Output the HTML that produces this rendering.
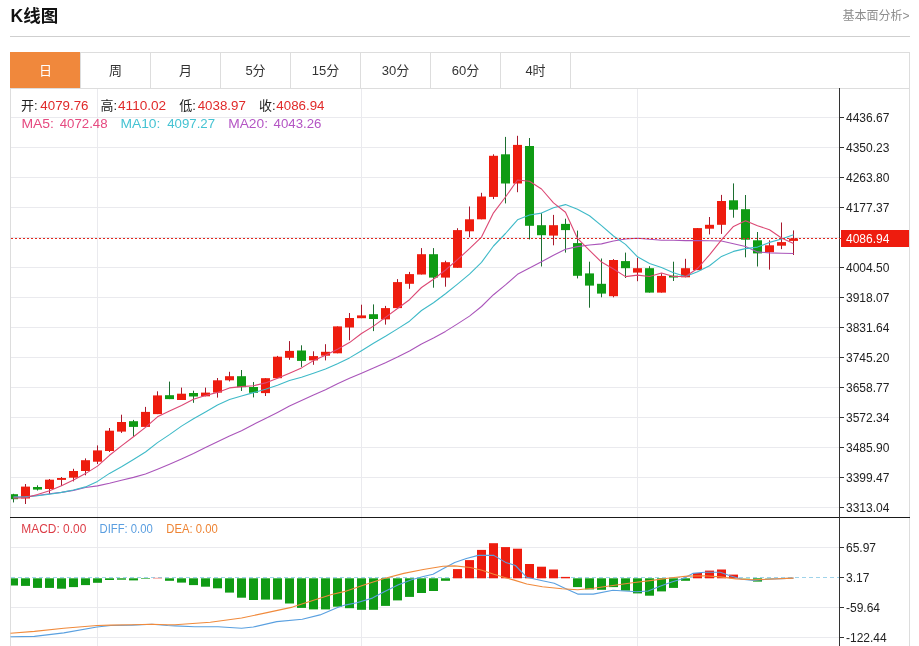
<!DOCTYPE html>
<html lang="zh"><head><meta charset="utf-8"><title>K线图</title>
<style>html,body{margin:0;padding:0;background:#fff}body{width:919px;height:646px;overflow:hidden;font-family:"Liberation Sans","Noto Sans CJK SC",sans-serif}svg{display:block}</style>
</head><body>
<svg width="919" height="646" viewBox="0 0 919 646" font-family='"Liberation Sans","Noto Sans CJK SC",sans-serif' shape-rendering="crispEdges">
<rect width="919" height="646" fill="#fff"/>
<rect x="10" y="36" width="900" height="1" fill="#cfcfcf"/>
<rect x="10" y="52" width="900" height="1" fill="#ddd"/>
<rect x="10" y="52" width="1" height="594" fill="#ddd"/>
<rect x="909" y="52" width="1" height="594" fill="#ddd"/>
<rect x="10" y="88" width="900" height="1" fill="#ddd"/>
<rect x="80" y="52" width="1" height="36" fill="#ddd"/>
<rect x="150" y="52" width="1" height="36" fill="#ddd"/>
<rect x="220" y="52" width="1" height="36" fill="#ddd"/>
<rect x="290" y="52" width="1" height="36" fill="#ddd"/>
<rect x="360" y="52" width="1" height="36" fill="#ddd"/>
<rect x="430" y="52" width="1" height="36" fill="#ddd"/>
<rect x="500" y="52" width="1" height="36" fill="#ddd"/>
<rect x="570" y="52" width="1" height="36" fill="#ddd"/>
<rect x="10" y="52" width="70" height="36" fill="#f0883c"/>
<rect x="11" y="117" width="828" height="1" fill="#eaeaee"/>
<rect x="11" y="147" width="828" height="1" fill="#eaeaee"/>
<rect x="11" y="177" width="828" height="1" fill="#eaeaee"/>
<rect x="11" y="207" width="828" height="1" fill="#eaeaee"/>
<rect x="11" y="237" width="828" height="1" fill="#eaeaee"/>
<rect x="11" y="267" width="828" height="1" fill="#eaeaee"/>
<rect x="11" y="297" width="828" height="1" fill="#eaeaee"/>
<rect x="11" y="327" width="828" height="1" fill="#eaeaee"/>
<rect x="11" y="357" width="828" height="1" fill="#eaeaee"/>
<rect x="11" y="387" width="828" height="1" fill="#eaeaee"/>
<rect x="11" y="417" width="828" height="1" fill="#eaeaee"/>
<rect x="11" y="447" width="828" height="1" fill="#eaeaee"/>
<rect x="11" y="477" width="828" height="1" fill="#eaeaee"/>
<rect x="11" y="507" width="828" height="1" fill="#eaeaee"/>
<rect x="11" y="547" width="828" height="1" fill="#eaeaee"/>
<rect x="11" y="607" width="828" height="1" fill="#eaeaee"/>
<rect x="11" y="637" width="828" height="1" fill="#eaeaee"/>
<rect x="97" y="89" width="1" height="557" fill="#eaeaee"/>
<rect x="361" y="89" width="1" height="557" fill="#eaeaee"/>
<rect x="637" y="89" width="1" height="557" fill="#eaeaee"/>
<line x1="11" y1="577.5" x2="839" y2="577.5" stroke="#9fd3ea" stroke-width="1" stroke-dasharray="4,3"/>
<rect x="10" y="517" width="900" height="1" fill="#1a1a1a"/>
<rect x="839" y="88" width="1" height="558" fill="#333"/>
<g font-size="12" fill="#222" shape-rendering="auto">
<rect x="840" y="117" width="4" height="1" fill="#333" shape-rendering="crispEdges"/>
<text x="846" y="121.6">4436.67</text>
<rect x="840" y="147" width="4" height="1" fill="#333" shape-rendering="crispEdges"/>
<text x="846" y="151.6">4350.23</text>
<rect x="840" y="177" width="4" height="1" fill="#333" shape-rendering="crispEdges"/>
<text x="846" y="181.6">4263.80</text>
<rect x="840" y="207" width="4" height="1" fill="#333" shape-rendering="crispEdges"/>
<text x="846" y="211.6">4177.37</text>
<rect x="840" y="267" width="4" height="1" fill="#333" shape-rendering="crispEdges"/>
<text x="846" y="271.6">4004.50</text>
<rect x="840" y="297" width="4" height="1" fill="#333" shape-rendering="crispEdges"/>
<text x="846" y="301.6">3918.07</text>
<rect x="840" y="327" width="4" height="1" fill="#333" shape-rendering="crispEdges"/>
<text x="846" y="331.6">3831.64</text>
<rect x="840" y="357" width="4" height="1" fill="#333" shape-rendering="crispEdges"/>
<text x="846" y="361.6">3745.20</text>
<rect x="840" y="387" width="4" height="1" fill="#333" shape-rendering="crispEdges"/>
<text x="846" y="391.6">3658.77</text>
<rect x="840" y="417" width="4" height="1" fill="#333" shape-rendering="crispEdges"/>
<text x="846" y="421.6">3572.34</text>
<rect x="840" y="447" width="4" height="1" fill="#333" shape-rendering="crispEdges"/>
<text x="846" y="451.6">3485.90</text>
<rect x="840" y="477" width="4" height="1" fill="#333" shape-rendering="crispEdges"/>
<text x="846" y="481.6">3399.47</text>
<rect x="840" y="507" width="4" height="1" fill="#333" shape-rendering="crispEdges"/>
<text x="846" y="511.6">3313.04</text>
<rect x="840" y="547" width="4" height="1" fill="#333" shape-rendering="crispEdges"/>
<text x="846" y="551.6">65.97</text>
<rect x="840" y="577" width="4" height="1" fill="#333" shape-rendering="crispEdges"/>
<text x="846" y="581.6">3.17</text>
<rect x="840" y="607" width="4" height="1" fill="#333" shape-rendering="crispEdges"/>
<text x="846" y="611.6">-59.64</text>
<rect x="840" y="637" width="4" height="1" fill="#333" shape-rendering="crispEdges"/>
<text x="846" y="641.6">-122.44</text>
</g>
<g shape-rendering="auto">
<rect x="13" y="493.8" width="1" height="8.6" fill="#1c6e30"/>
<rect x="11" y="494.2" width="7" height="5.0" fill="#0f9b14"/>
<rect x="25" y="484.0" width="1" height="20.0" fill="#a8182c"/>
<rect x="21" y="486.6" width="9" height="11.9" fill="#ee1c0e"/>
<rect x="37" y="485.3" width="1" height="5.2" fill="#1c6e30"/>
<rect x="33" y="487.0" width="9" height="2.6" fill="#0f9b14"/>
<rect x="49" y="479.0" width="1" height="14.8" fill="#a8182c"/>
<rect x="45" y="479.7" width="9" height="9.3" fill="#ee1c0e"/>
<rect x="61" y="477.0" width="1" height="9.0" fill="#a8182c"/>
<rect x="57" y="478.0" width="9" height="1.9" fill="#ee1c0e"/>
<rect x="73" y="468.8" width="1" height="12.6" fill="#a8182c"/>
<rect x="69" y="471.0" width="9" height="6.7" fill="#ee1c0e"/>
<rect x="85" y="458.4" width="1" height="16.9" fill="#a8182c"/>
<rect x="81" y="460.2" width="9" height="10.8" fill="#ee1c0e"/>
<rect x="97" y="445.4" width="1" height="18.6" fill="#a8182c"/>
<rect x="93" y="450.4" width="9" height="11.3" fill="#ee1c0e"/>
<rect x="109" y="428.0" width="1" height="24.0" fill="#a8182c"/>
<rect x="105" y="430.7" width="9" height="20.3" fill="#ee1c0e"/>
<rect x="121" y="414.7" width="1" height="18.2" fill="#a8182c"/>
<rect x="117" y="422.0" width="9" height="9.6" fill="#ee1c0e"/>
<rect x="133" y="419.9" width="1" height="16.7" fill="#1c6e30"/>
<rect x="129" y="421.2" width="9" height="5.7" fill="#0f9b14"/>
<rect x="145" y="406.9" width="1" height="20.0" fill="#a8182c"/>
<rect x="141" y="411.9" width="9" height="15.0" fill="#ee1c0e"/>
<rect x="157" y="391.3" width="1" height="22.8" fill="#a8182c"/>
<rect x="153" y="395.4" width="9" height="18.7" fill="#ee1c0e"/>
<rect x="169" y="381.6" width="1" height="17.5" fill="#1c6e30"/>
<rect x="165" y="395.2" width="9" height="3.9" fill="#0f9b14"/>
<rect x="181" y="387.6" width="1" height="12.4" fill="#a8182c"/>
<rect x="177" y="393.7" width="9" height="6.3" fill="#ee1c0e"/>
<rect x="193" y="390.7" width="1" height="12.1" fill="#1c6e30"/>
<rect x="189" y="393.0" width="9" height="3.5" fill="#0f9b14"/>
<rect x="205" y="387.6" width="1" height="8.7" fill="#a8182c"/>
<rect x="201" y="392.6" width="9" height="3.7" fill="#ee1c0e"/>
<rect x="217" y="378.0" width="1" height="19.6" fill="#a8182c"/>
<rect x="213" y="380.3" width="9" height="12.3" fill="#ee1c0e"/>
<rect x="229" y="371.8" width="1" height="9.6" fill="#a8182c"/>
<rect x="225" y="376.2" width="9" height="4.1" fill="#ee1c0e"/>
<rect x="241" y="370.0" width="1" height="21.0" fill="#1c6e30"/>
<rect x="237" y="376.2" width="9" height="11.0" fill="#0f9b14"/>
<rect x="253" y="382.0" width="1" height="15.4" fill="#1c6e30"/>
<rect x="249" y="387.0" width="9" height="5.8" fill="#0f9b14"/>
<rect x="265" y="378.2" width="1" height="17.8" fill="#a8182c"/>
<rect x="261" y="378.2" width="9" height="14.9" fill="#ee1c0e"/>
<rect x="277" y="355.9" width="1" height="22.3" fill="#a8182c"/>
<rect x="273" y="356.7" width="9" height="21.5" fill="#ee1c0e"/>
<rect x="289" y="341.1" width="1" height="18.7" fill="#a8182c"/>
<rect x="285" y="350.9" width="9" height="6.9" fill="#ee1c0e"/>
<rect x="301" y="345.3" width="1" height="21.6" fill="#1c6e30"/>
<rect x="297" y="350.5" width="9" height="10.4" fill="#0f9b14"/>
<rect x="313" y="351.3" width="1" height="13.5" fill="#a8182c"/>
<rect x="309" y="356.1" width="9" height="4.3" fill="#ee1c0e"/>
<rect x="325" y="344.2" width="1" height="16.2" fill="#a8182c"/>
<rect x="321" y="351.8" width="9" height="3.9" fill="#ee1c0e"/>
<rect x="337" y="326.4" width="1" height="26.9" fill="#a8182c"/>
<rect x="333" y="326.4" width="9" height="26.9" fill="#ee1c0e"/>
<rect x="349" y="313.0" width="1" height="27.3" fill="#a8182c"/>
<rect x="345" y="318.0" width="9" height="9.5" fill="#ee1c0e"/>
<rect x="361" y="304.7" width="1" height="13.5" fill="#a8182c"/>
<rect x="357" y="315.4" width="9" height="2.8" fill="#ee1c0e"/>
<rect x="373" y="304.4" width="1" height="26.7" fill="#1c6e30"/>
<rect x="369" y="314.2" width="9" height="4.8" fill="#0f9b14"/>
<rect x="385" y="305.9" width="1" height="18.7" fill="#a8182c"/>
<rect x="381" y="308.1" width="9" height="11.3" fill="#ee1c0e"/>
<rect x="397" y="279.1" width="1" height="29.0" fill="#a8182c"/>
<rect x="393" y="282.1" width="9" height="26.0" fill="#ee1c0e"/>
<rect x="409" y="271.9" width="1" height="16.9" fill="#a8182c"/>
<rect x="405" y="274.1" width="9" height="9.7" fill="#ee1c0e"/>
<rect x="421" y="248.1" width="1" height="26.4" fill="#a8182c"/>
<rect x="417" y="254.2" width="9" height="20.3" fill="#ee1c0e"/>
<rect x="433" y="248.1" width="1" height="39.6" fill="#1c6e30"/>
<rect x="429" y="254.2" width="9" height="23.4" fill="#0f9b14"/>
<rect x="445" y="260.7" width="1" height="26.0" fill="#a8182c"/>
<rect x="441" y="262.2" width="9" height="15.4" fill="#ee1c0e"/>
<rect x="457" y="228.2" width="1" height="39.6" fill="#a8182c"/>
<rect x="453" y="230.1" width="9" height="37.7" fill="#ee1c0e"/>
<rect x="469" y="206.5" width="1" height="30.8" fill="#a8182c"/>
<rect x="465" y="219.3" width="9" height="12.0" fill="#ee1c0e"/>
<rect x="481" y="192.8" width="1" height="26.5" fill="#a8182c"/>
<rect x="477" y="196.5" width="9" height="22.8" fill="#ee1c0e"/>
<rect x="493" y="154.3" width="1" height="44.8" fill="#a8182c"/>
<rect x="489" y="155.8" width="9" height="41.1" fill="#ee1c0e"/>
<rect x="505" y="136.9" width="1" height="66.5" fill="#1c6e30"/>
<rect x="501" y="154.3" width="9" height="29.2" fill="#0f9b14"/>
<rect x="517" y="135.8" width="1" height="56.4" fill="#a8182c"/>
<rect x="513" y="144.9" width="9" height="38.6" fill="#ee1c0e"/>
<rect x="529" y="138.0" width="1" height="101.4" fill="#1c6e30"/>
<rect x="525" y="146.0" width="9" height="79.8" fill="#0f9b14"/>
<rect x="541" y="212.9" width="1" height="53.6" fill="#1c6e30"/>
<rect x="537" y="225.2" width="9" height="10.0" fill="#0f9b14"/>
<rect x="553" y="214.9" width="1" height="30.4" fill="#a8182c"/>
<rect x="549" y="225.2" width="9" height="10.4" fill="#ee1c0e"/>
<rect x="565" y="218.7" width="1" height="33.9" fill="#1c6e30"/>
<rect x="561" y="223.9" width="9" height="6.2" fill="#0f9b14"/>
<rect x="577" y="230.6" width="1" height="47.8" fill="#1c6e30"/>
<rect x="573" y="243.1" width="9" height="32.7" fill="#0f9b14"/>
<rect x="589" y="261.7" width="1" height="46.0" fill="#1c6e30"/>
<rect x="585" y="273.4" width="9" height="12.2" fill="#0f9b14"/>
<rect x="601" y="258.5" width="1" height="38.8" fill="#1c6e30"/>
<rect x="597" y="283.8" width="9" height="9.8" fill="#0f9b14"/>
<rect x="613" y="259.1" width="1" height="38.2" fill="#a8182c"/>
<rect x="609" y="260.0" width="9" height="36.2" fill="#ee1c0e"/>
<rect x="625" y="252.6" width="1" height="25.4" fill="#1c6e30"/>
<rect x="621" y="261.1" width="9" height="7.1" fill="#0f9b14"/>
<rect x="637" y="257.8" width="1" height="23.4" fill="#a8182c"/>
<rect x="633" y="268.2" width="9" height="4.4" fill="#ee1c0e"/>
<rect x="649" y="266.2" width="1" height="26.4" fill="#1c6e30"/>
<rect x="645" y="268.2" width="9" height="24.4" fill="#0f9b14"/>
<rect x="661" y="273.4" width="1" height="19.2" fill="#a8182c"/>
<rect x="657" y="275.9" width="9" height="16.7" fill="#ee1c0e"/>
<rect x="673" y="261.7" width="1" height="19.3" fill="#1c6e30"/>
<rect x="669" y="275.7" width="9" height="1.8" fill="#0f9b14"/>
<rect x="685" y="258.8" width="1" height="18.5" fill="#a8182c"/>
<rect x="681" y="268.2" width="9" height="9.1" fill="#ee1c0e"/>
<rect x="697" y="228.1" width="1" height="42.0" fill="#a8182c"/>
<rect x="693" y="228.1" width="9" height="42.0" fill="#ee1c0e"/>
<rect x="709" y="217.0" width="1" height="17.4" fill="#a8182c"/>
<rect x="705" y="224.8" width="9" height="3.9" fill="#ee1c0e"/>
<rect x="721" y="194.9" width="1" height="39.0" fill="#a8182c"/>
<rect x="717" y="201.0" width="9" height="23.8" fill="#ee1c0e"/>
<rect x="733" y="183.4" width="1" height="34.3" fill="#1c6e30"/>
<rect x="729" y="200.3" width="9" height="9.4" fill="#0f9b14"/>
<rect x="745" y="195.0" width="1" height="62.3" fill="#1c6e30"/>
<rect x="741" y="209.2" width="9" height="30.5" fill="#0f9b14"/>
<rect x="757" y="232.0" width="1" height="34.5" fill="#1c6e30"/>
<rect x="753" y="240.3" width="9" height="13.1" fill="#0f9b14"/>
<rect x="769" y="240.3" width="1" height="29.3" fill="#a8182c"/>
<rect x="765" y="245.3" width="9" height="6.9" fill="#ee1c0e"/>
<rect x="781" y="222.5" width="1" height="26.6" fill="#a8182c"/>
<rect x="777" y="242.1" width="9" height="3.6" fill="#ee1c0e"/>
<rect x="793" y="230.4" width="1" height="24.6" fill="#a8182c"/>
<rect x="789" y="238.4" width="9" height="2.5" fill="#ee1c0e"/>
</g>
<g shape-rendering="auto" fill="none" stroke-width="1.1" stroke-linejoin="round">
<polyline points="13.5,497.1 25.5,496.8 37.5,495.5 49.5,493.8 61.5,492.4 73.5,490.4 85.5,487.5 97.5,485.9 109.5,483.3 121.5,480.3 133.5,477.4 145.5,474.0 157.5,469.2 169.5,464.2 181.5,459.0 193.5,453.5 205.5,447.6 217.5,441.8 229.5,435.9 241.5,430.7 253.5,424.4 265.5,418.5 277.5,412.4 289.5,406.1 301.5,400.5 313.5,394.9 325.5,389.7 337.5,383.7 349.5,378.3 361.5,373.2 373.5,368.0 385.5,362.8 397.5,357.1 409.5,350.9 421.5,343.9 433.5,337.9 445.5,331.4 457.5,323.9 469.5,316.1 481.5,306.5 493.5,294.7 505.5,284.9 517.5,274.3 529.5,268.1 541.5,261.8 553.5,255.3 565.5,249.2 577.5,246.6 589.5,245.0 601.5,243.9 613.5,241.0 625.5,239.0 637.5,238.3 649.5,239.2 661.5,240.3 673.5,240.3 685.5,240.6 697.5,240.5 709.5,240.8 721.5,241.0 733.5,243.7 745.5,246.5 757.5,251.9 769.5,252.9 781.5,253.2 793.5,253.5" stroke="#aa55ba"/>
<polyline points="13.5,497.1 25.5,496.9 37.5,495.8 49.5,494.3 61.5,492.4 73.5,490.0 85.5,486.9 97.5,481.4 109.5,473.4 121.5,466.7 133.5,459.5 145.5,452.0 157.5,442.6 169.5,434.6 181.5,426.1 193.5,418.7 205.5,411.9 217.5,404.9 229.5,399.5 241.5,396.0 253.5,392.6 265.5,389.2 277.5,385.3 289.5,380.5 301.5,377.2 313.5,373.2 325.5,369.1 337.5,363.7 349.5,357.9 361.5,350.7 373.5,343.3 385.5,336.3 397.5,328.9 409.5,321.2 421.5,310.5 433.5,302.7 445.5,293.7 457.5,284.1 469.5,274.2 481.5,262.3 493.5,246.0 505.5,233.5 517.5,219.8 529.5,215.0 541.5,213.1 553.5,207.8 565.5,204.6 577.5,209.2 589.5,215.8 601.5,225.6 613.5,236.0 625.5,244.4 637.5,256.8 649.5,263.4 661.5,267.5 673.5,272.8 685.5,276.6 697.5,271.8 709.5,265.7 721.5,256.4 733.5,251.4 745.5,248.6 757.5,247.1 769.5,242.4 781.5,239.0 793.5,234.8" stroke="#3fbac8"/>
<polyline points="13.5,498.1 25.5,497.7 37.5,494.5 49.5,490.8 61.5,485.8 73.5,480.0 85.5,473.6 97.5,466.1 109.5,455.3 121.5,445.9 133.5,436.8 145.5,427.4 157.5,416.8 169.5,411.1 181.5,405.4 193.5,399.3 205.5,395.5 217.5,392.4 229.5,387.9 241.5,386.6 253.5,385.8 265.5,382.9 277.5,378.2 289.5,373.2 301.5,367.9 313.5,360.6 325.5,355.3 337.5,349.2 349.5,342.6 361.5,333.5 373.5,326.1 385.5,317.4 397.5,308.5 409.5,299.7 421.5,287.5 433.5,279.2 445.5,270.0 457.5,259.6 469.5,248.7 481.5,237.1 493.5,212.8 505.5,197.0 517.5,180.0 529.5,181.3 541.5,189.0 553.5,202.9 565.5,212.2 577.5,238.4 589.5,250.4 601.5,262.1 613.5,269.0 625.5,276.6 637.5,275.1 649.5,276.5 661.5,273.0 673.5,276.5 685.5,276.5 697.5,268.5 709.5,254.9 721.5,239.9 733.5,226.4 745.5,220.7 757.5,225.7 769.5,229.8 781.5,238.0 793.5,243.4" stroke="#dc4874"/>
</g>
<line x1="11" y1="238.5" x2="843" y2="238.5" stroke="#e0281e" stroke-width="1" stroke-dasharray="2,2"/>
<rect x="841" y="230" width="68" height="17" fill="#ee1c0e"/>
<text x="846" y="243" font-size="12" fill="#fff" shape-rendering="auto">4086.94</text>
<g shape-rendering="auto">
<rect x="11" y="578.3" width="7" height="7.2" fill="#0f9b14"/>
<rect x="21" y="578.3" width="9" height="7.6" fill="#0f9b14"/>
<rect x="33" y="578.3" width="9" height="9.6" fill="#0f9b14"/>
<rect x="45" y="578.3" width="9" height="9.6" fill="#0f9b14"/>
<rect x="57" y="578.3" width="9" height="10.4" fill="#0f9b14"/>
<rect x="69" y="578.3" width="9" height="8.8" fill="#0f9b14"/>
<rect x="81" y="578.3" width="9" height="6.8" fill="#0f9b14"/>
<rect x="93" y="578.3" width="9" height="4.5" fill="#0f9b14"/>
<rect x="105" y="578.3" width="9" height="1.7" fill="#0f9b14"/>
<rect x="117" y="578.3" width="9" height="1.4" fill="#0f9b14"/>
<rect x="129" y="578.3" width="9" height="2.1" fill="#0f9b14"/>
<rect x="141" y="578.3" width="9" height="0.6" fill="#0f9b14"/>
<rect x="153" y="577.9" width="9" height="0.4" fill="#ee1c0e"/>
<rect x="165" y="578.3" width="9" height="2.5" fill="#0f9b14"/>
<rect x="177" y="578.3" width="9" height="4.3" fill="#0f9b14"/>
<rect x="189" y="578.3" width="9" height="6.8" fill="#0f9b14"/>
<rect x="201" y="578.3" width="9" height="8.4" fill="#0f9b14"/>
<rect x="213" y="578.3" width="9" height="10.0" fill="#0f9b14"/>
<rect x="225" y="578.3" width="9" height="14.3" fill="#0f9b14"/>
<rect x="237" y="578.3" width="9" height="19.4" fill="#0f9b14"/>
<rect x="249" y="578.3" width="9" height="21.7" fill="#0f9b14"/>
<rect x="261" y="578.3" width="9" height="21.3" fill="#0f9b14"/>
<rect x="273" y="578.3" width="9" height="21.3" fill="#0f9b14"/>
<rect x="285" y="578.3" width="9" height="25.2" fill="#0f9b14"/>
<rect x="297" y="578.3" width="9" height="29.6" fill="#0f9b14"/>
<rect x="309" y="578.3" width="9" height="31.1" fill="#0f9b14"/>
<rect x="321" y="578.3" width="9" height="31.1" fill="#0f9b14"/>
<rect x="333" y="578.3" width="9" height="28.4" fill="#0f9b14"/>
<rect x="345" y="578.3" width="9" height="29.9" fill="#0f9b14"/>
<rect x="357" y="578.3" width="9" height="31.5" fill="#0f9b14"/>
<rect x="369" y="578.3" width="9" height="31.5" fill="#0f9b14"/>
<rect x="381" y="578.3" width="9" height="27.6" fill="#0f9b14"/>
<rect x="393" y="578.3" width="9" height="22.1" fill="#0f9b14"/>
<rect x="405" y="578.3" width="9" height="18.6" fill="#0f9b14"/>
<rect x="417" y="578.3" width="9" height="14.7" fill="#0f9b14"/>
<rect x="429" y="578.3" width="9" height="12.7" fill="#0f9b14"/>
<rect x="441" y="578.3" width="9" height="2.5" fill="#0f9b14"/>
<rect x="453" y="569.1" width="9" height="9.2" fill="#ee1c0e"/>
<rect x="465" y="560.1" width="9" height="18.2" fill="#ee1c0e"/>
<rect x="477" y="549.9" width="9" height="28.4" fill="#ee1c0e"/>
<rect x="489" y="543.2" width="9" height="35.1" fill="#ee1c0e"/>
<rect x="501" y="547.1" width="9" height="31.2" fill="#ee1c0e"/>
<rect x="513" y="548.7" width="9" height="29.6" fill="#ee1c0e"/>
<rect x="525" y="564.0" width="9" height="14.3" fill="#ee1c0e"/>
<rect x="537" y="566.7" width="9" height="11.6" fill="#ee1c0e"/>
<rect x="549" y="569.5" width="9" height="8.8" fill="#ee1c0e"/>
<rect x="561" y="576.9" width="9" height="1.4" fill="#ee1c0e"/>
<rect x="573" y="578.3" width="9" height="8.8" fill="#0f9b14"/>
<rect x="585" y="578.3" width="9" height="11.1" fill="#0f9b14"/>
<rect x="597" y="578.3" width="9" height="11.5" fill="#0f9b14"/>
<rect x="609" y="578.3" width="9" height="8.8" fill="#0f9b14"/>
<rect x="621" y="578.3" width="9" height="12.3" fill="#0f9b14"/>
<rect x="633" y="578.3" width="9" height="15.1" fill="#0f9b14"/>
<rect x="645" y="578.3" width="9" height="17.4" fill="#0f9b14"/>
<rect x="657" y="578.3" width="9" height="13.1" fill="#0f9b14"/>
<rect x="669" y="578.3" width="9" height="9.6" fill="#0f9b14"/>
<rect x="681" y="578.3" width="9" height="2.5" fill="#0f9b14"/>
<rect x="693" y="573.0" width="9" height="5.3" fill="#ee1c0e"/>
<rect x="705" y="570.6" width="9" height="7.7" fill="#ee1c0e"/>
<rect x="717" y="569.5" width="9" height="8.8" fill="#ee1c0e"/>
<rect x="729" y="574.6" width="9" height="3.7" fill="#ee1c0e"/>
<rect x="741" y="578.3" width="9" height="0.3" fill="#0f9b14"/>
<rect x="753" y="578.3" width="9" height="3.3" fill="#0f9b14"/>
<rect x="765" y="578.3" width="9" height="0.3" fill="#0f9b14"/>
</g>
<g shape-rendering="auto" fill="none" stroke-width="1.1" stroke-linejoin="round">
<polyline points="10.5,636.8 34.4,636.4 63.8,632.9 97.0,627.0 110.8,625.5 132.3,625.1 151.9,624.3 167.6,625.5 175.0,625.9 194.6,626.7 218.0,626.7 241.6,628.2 253.3,627.0 276.8,621.6 302.3,619.2 320.0,614.9 337.6,607.5 345.0,605.1 356.8,602.8 372.4,598.1 384.2,591.8 397.9,585.1 411.6,579.7 423.3,576.5 433.0,574.2 443.0,568.7 454.7,562.4 466.4,558.5 478.2,555.4 493.8,555.4 505.6,562.4 515.4,565.5 526.8,577.3 542.4,580.8 554.2,583.2 565.9,588.7 577.7,594.1 593.3,594.1 612.9,590.2 624.7,591.0 636.4,591.8 648.2,591.0 660.0,586.3 671.7,582.0 683.4,578.5 692.8,573.4 704.6,572.2 720.3,572.2 730.0,575.7 741.8,579.3 753.5,580.4 767.3,579.3 793.5,578.1" stroke="#5aa0e0"/>
<polyline points="10.5,633.3 34.4,631.4 63.8,628.2 97.0,625.5 110.8,625.1 132.3,624.7 151.9,624.3 167.6,624.7 175.0,624.7 210.3,622.3 241.6,618.0 267.0,612.6 292.5,607.1 312.0,600.8 331.7,594.5 345.0,591.4 364.6,584.7 384.2,578.5 403.8,573.4 423.3,569.5 443.0,566.3 454.7,565.9 470.3,567.5 482.0,570.3 493.8,574.2 505.6,577.7 515.0,580.4 526.8,584.0 542.4,586.7 562.0,588.7 577.7,589.8 593.3,588.3 612.9,585.5 632.5,582.8 652.1,580.4 671.7,577.7 687.3,576.1 704.6,575.7 720.3,576.9 736.0,578.9 753.5,579.7 767.3,579.3 793.5,578.1" stroke="#f08a3c"/>
</g>
<g shape-rendering="auto">
<text x="10.5" y="22" font-size="17.5" font-weight="bold" fill="#111">K线图</text>
<text x="909.5" y="19.5" font-size="12" fill="#8e8e8e" text-anchor="end">基本面分析&gt;</text>
<text x="45.5" y="75" font-size="13" fill="#fff" text-anchor="middle">日</text>
<text x="115.5" y="75" font-size="13" fill="#333" text-anchor="middle">周</text>
<text x="185.5" y="75" font-size="13" fill="#333" text-anchor="middle">月</text>
<text x="255.5" y="75" font-size="13" fill="#333" text-anchor="middle">5分</text>
<text x="325.5" y="75" font-size="13" fill="#333" text-anchor="middle">15分</text>
<text x="395.5" y="75" font-size="13" fill="#333" text-anchor="middle">30分</text>
<text x="465.5" y="75" font-size="13" fill="#333" text-anchor="middle">60分</text>
<text x="535.5" y="75" font-size="13" fill="#333" text-anchor="middle">4时</text>
<text x="21" y="110" font-size="13" fill="#222">开:</text>
<text x="40.3" y="110" font-size="13" fill="#e02a2a" textLength="48.2" lengthAdjust="spacingAndGlyphs">4079.76</text>
<text x="100.5" y="110" font-size="13" fill="#222">高:</text>
<text x="118" y="110" font-size="13" fill="#e02a2a" textLength="48.2" lengthAdjust="spacingAndGlyphs">4110.02</text>
<text x="179.3" y="110" font-size="13" fill="#222">低:</text>
<text x="197.7" y="110" font-size="13" fill="#e02a2a" textLength="48.2" lengthAdjust="spacingAndGlyphs">4038.97</text>
<text x="259" y="110" font-size="13" fill="#222">收:</text>
<text x="276.3" y="110" font-size="13" fill="#e02a2a" textLength="48.2" lengthAdjust="spacingAndGlyphs">4086.94</text>
<text x="21.4" y="127.6" font-size="13" fill="#e64a80" textLength="32.6" lengthAdjust="spacingAndGlyphs">MA5:</text>
<text x="59.7" y="127.6" font-size="13" fill="#e64a80" textLength="47.9" lengthAdjust="spacingAndGlyphs">4072.48</text>
<text x="120.4" y="127.6" font-size="13" fill="#45c3d3" textLength="40" lengthAdjust="spacingAndGlyphs">MA10:</text>
<text x="167.2" y="127.6" font-size="13" fill="#45c3d3" textLength="47.9" lengthAdjust="spacingAndGlyphs">4097.27</text>
<text x="228.2" y="127.6" font-size="13" fill="#b455c4" textLength="39.8" lengthAdjust="spacingAndGlyphs">MA20:</text>
<text x="273.6" y="127.6" font-size="13" fill="#b455c4" textLength="47.9" lengthAdjust="spacingAndGlyphs">4043.26</text>
<text x="21.3" y="532.7" font-size="12" fill="#dc3c46" textLength="65" lengthAdjust="spacingAndGlyphs">MACD: 0.00</text>
<text x="99.5" y="532.7" font-size="12" fill="#5a9ee0" textLength="53.3" lengthAdjust="spacingAndGlyphs">DIFF: 0.00</text>
<text x="166.3" y="532.7" font-size="12" fill="#ee8434" textLength="51.5" lengthAdjust="spacingAndGlyphs">DEA: 0.00</text>
</g>
</svg>
</body></html>
